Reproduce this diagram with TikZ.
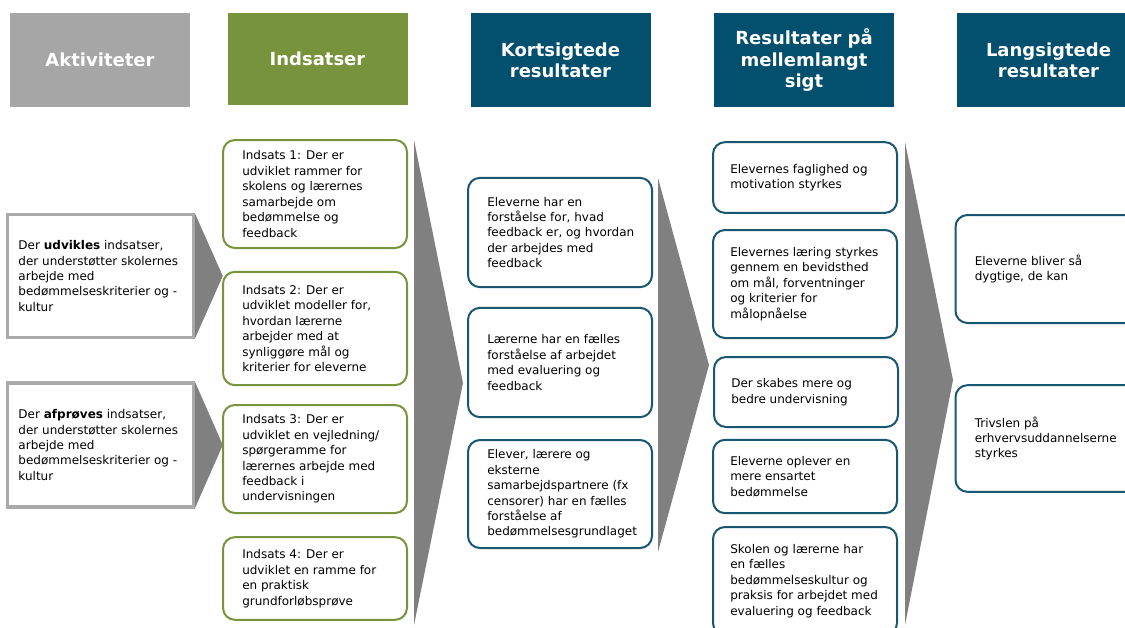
\documentclass[tikz,border=0pt]{standalone}
\usepackage{fontspec}
\setmainfont{DejaVu Sans}
\usetikzlibrary{positioning}
\definecolor{headgray}{RGB}{166,166,166}
\definecolor{headgreen}{RGB}{119,147,60}
\definecolor{headblue}{RGB}{3,79,110}
\definecolor{boxblue}{RGB}{24,86,114}
\definecolor{arrowgray}{RGB}{128,128,128}
\definecolor{framegray}{RGB}{170,170,170}
\tikzset{
  head/.style={fill=#1, text=white, align=center, inner sep=0pt,
    font=\fontsize{13.5}{16}\selectfont\bfseries,
    minimum width=135pt, minimum height=70.5pt},
  rbox/.style={draw=#1, line width=1.5pt, rounded corners=9pt, fill=white,
    minimum width=138pt},
  actbox/.style={draw=framegray, line width=2.4pt, fill=white,
    minimum width=139pt, minimum height=92pt},
  btext/.style={align=left, inner sep=0pt, anchor=west,
    font=\fontsize{9}{11.6}\selectfont},
}
\begin{document}
\begin{tikzpicture}[x=0.75pt, y=-0.75pt]
\clip (0,0) rectangle (1125,628);
\fill[white] (0,0) rectangle (1125,628);

% headers
\node[head=headgray] (akt) at (100,60) {Aktiviteter};
\node[head=headgreen, minimum height=69pt] (ind) at (317.5,59) {Indsatser};
\node[head=headblue] (kort) at (560.5,60) {Kortsigtede\\resultater};
\node[head=headblue] (mel) at (804,60) {Resultater på\\mellemlangt\\sigt};
\node[head=headblue, minimum width=137pt] (lang) at (1048.5,60) {Langsigtede\\resultater};

% big arrows
\fill[arrowgray] (414,140) -- (463,383) -- (414,625) -- cycle;
\fill[arrowgray] (658,178) -- (709,365) -- (658,552) -- cycle;
\fill[arrowgray] (905,142) -- (953,380) -- (905,625) -- cycle;

% activities
\node[actbox] (a1) at (100.5,276) {};
\node[btext, right=9pt of a1.west] (a1t) {Der \textbf{udvikles} indsatser,\\
  der understøtter skolernes\\ arbejde med\\ bedømmelseskriterier og -\\ kultur};
\node[actbox, minimum height=93pt] (a2) at (100.5,445) {};
\node[btext, right=9pt of a2.west] (a2t) {Der \textbf{afprøves} indsatser,\\
  der understøtter skolernes\\ arbejde med\\ bedømmelseskriterier og -\\ kultur};
\fill[arrowgray] (a1.north east) -- ([xshift=21pt]a1.east) -- (a1.south east) -- cycle;
\fill[arrowgray] (a2.north east) -- ([xshift=21pt]a2.east) -- (a2.south east) -- cycle;

% indsatser
\node[rbox=headgreen, minimum height=81pt] (i1) at (315,194) {};
\node[btext, right=15pt of i1.west] (i1t) {Indsats 1: Der er\\
  udviklet rammer for\\ skolens og lærernes\\ samarbejde om\\ bedømmelse og\\ feedback};
\node[rbox=headgreen, minimum height=85pt] (i2) at (315,328.5) {};
\node[btext, right=15pt of i2.west] (i2t) {Indsats 2: Der er\\
  udviklet modeller for,\\ hvordan lærerne\\ arbejder med at\\ synliggøre mål og\\ kriterier for eleverne};
\node[rbox=headgreen, minimum height=81pt] (i3) at (315,459) {};
\node[btext, right=15pt of i3.west] (i3t) {Indsats 3: Der er\\
  udviklet en vejledning/\\ spørgeramme for\\ lærernes arbejde med\\ feedback i\\ undervisningen};
\node[rbox=headgreen, minimum height=62pt] (i4) at (315,578.5) {};
\node[btext, right=15pt of i4.west] (i4t) {Indsats 4: Der er\\
  udviklet en ramme for\\ en praktisk\\ grundforløbsprøve};

% kortsigtede
\node[rbox=boxblue, minimum height=82pt] (k1) at (560,232.5) {};
\node[btext, right=15pt of k1.west] (k1t) {Eleverne har en\\
  forståelse for, hvad\\ feedback er, og hvordan\\ der arbejdes med\\ feedback};
\node[rbox=boxblue, minimum height=82pt] (k2) at (560,362.5) {};
\node[btext, right=15pt of k2.west] (k2t) {Lærerne har en fælles\\
  forståelse af arbejdet\\ med evaluering og\\ feedback};
\node[rbox=boxblue, minimum height=81pt] (k3) at (560,494) {};
\node[btext, right=15pt of k3.west] (k3t) {Elever, lærere og\\
  eksterne\\ samarbejdspartnere (fx\\ censorer) har en fælles\\ forståelse af\\ bedømmelsesgrundlaget};

% mellemlangt sigt
\node[rbox=boxblue, minimum height=53pt] (m1) at (805,177.5) {};
\node[btext, right=13.5pt of m1.west] (m1t) {Elevernes faglighed og\\
  motivation styrkes};
\node[rbox=boxblue, minimum height=81pt] (m2) at (805,284) {};
\node[btext, right=13.5pt of m2.west] (m2t) {Elevernes læring styrkes\\
  gennem en bevidsthed\\ om mål, forventninger\\ og kriterier for\\ målopnåelse};
\node[rbox=boxblue, minimum height=52.5pt] (m3) at (806,392) {};
\node[btext, right=13.5pt of m3.west] (m3t) {Der skabes mere og\\
  bedre undervisning};
\node[rbox=boxblue, minimum height=55pt] (m4) at (805,476.5) {};
\node[btext, right=13.5pt of m4.west] (m4t) {Eleverne oplever en\\
  mere ensartet\\ bedømmelse};
\node[rbox=boxblue, minimum height=81pt] (m5) at (805,581) {};
\node[btext, right=13.5pt of m5.west] (m5t) {Skolen og lærerne har\\
  en fælles\\ bedømmelseskultur og\\ praksis for arbejdet med\\ evaluering og feedback};

% langsigtede
\node[rbox=boxblue, minimum height=81pt] (l1) at (1047.5,269) {};
\node[btext, right=15pt of l1.west] (l1t) {Eleverne bliver så\\
  dygtige, de kan};
\node[rbox=boxblue, minimum height=80pt] (l2) at (1047.5,438.5) {};
\node[btext, right=15pt of l2.west] (l2t) {Trivslen på\\
  erhvervsuddannelserne\\ styrkes};
\end{tikzpicture}
\end{document}
